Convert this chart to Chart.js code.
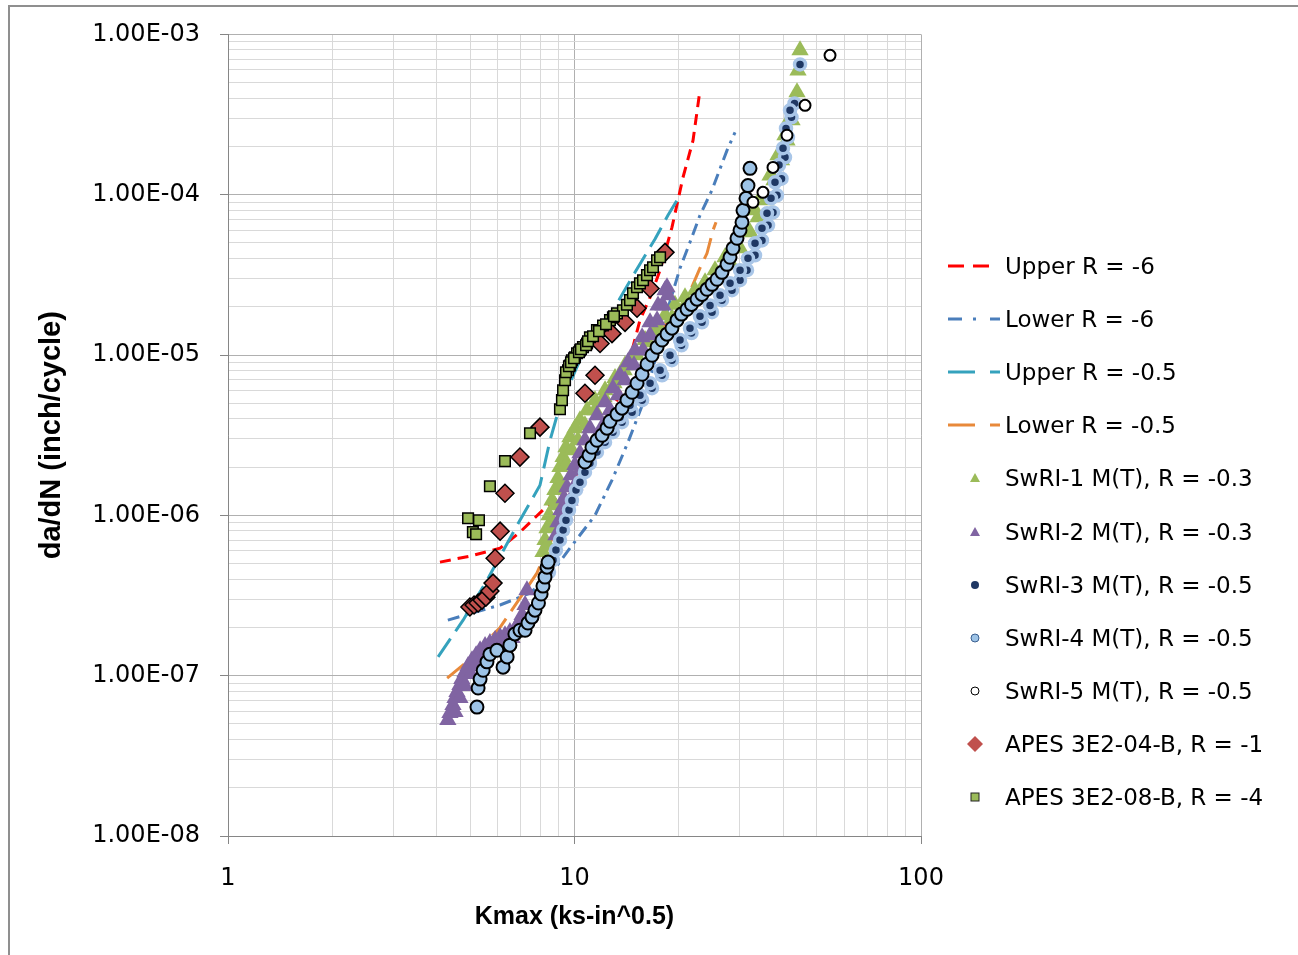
<!DOCTYPE html>
<html>
<head>
<meta charset="utf-8">
<script src="https://cdn.jsdelivr.net/npm/chart.js@4.4.1/dist/chart.umd.min.js"></script>
<style>
  body { margin: 0; background: #fff; }
  #wrap { position: relative; width: 1298px; height: 955px; overflow: hidden; }
  #frame { position: absolute; left: 8px; top: 5px; width: 1400px; height: 1100px;
           border-left: 2px solid #8f8f8f; border-top: 2px solid #8f8f8f; }
  #chart { position: absolute; left: 0; top: 0; }
  #legend { position: absolute; left: 0; top: 0; font-family: "DejaVu Sans"; font-size: 23px; color: #000; }
  .item { position: absolute; left: 946px; height: 30px; display: flex; align-items: center; white-space: nowrap; }
  .item svg { width: 56px; height: 30px; margin-right: 3px; flex: none; }
</style>
</head>
<body>
<div id="wrap">
  <div id="frame"></div>
  <canvas id="chart" width="1298" height="955"></canvas>
  <div id="legend"></div>
</div>
<script>
// axis ticks
const xDecades = [1, 10, 100];
const xTickLabels = ['1', '10', '100'];
const yDecades = [1e-8, 1e-7, 1e-6, 1e-5, 1e-4, 1e-3];
const yTickLabels = ['1.00E-08', '1.00E-07', '1.00E-06', '1.00E-05', '1.00E-04', '1.00E-03'];

const seriesNames = [
  'Upper R = -6', 'Lower R = -6', 'Upper R = -0.5', 'Lower R = -0.5',
  'SwRI-1 M(T), R = -0.3', 'SwRI-2 M(T), R = -0.3', 'SwRI-3 M(T), R = -0.5',
  'SwRI-4 M(T), R = -0.5', 'SwRI-5 M(T), R = -0.5',
  'APES 3E2-04-B, R = -1', 'APES 3E2-08-B, R = -4'
];

// bounding curves, Kmax vs da/dN
const upperR6K = [4.09, 4.99, 6.10, 6.96, 8.67, 9.90, 11.85, 13.53, 14.66, 15.45, 16.52, 17.66, 19.11, 20.56, 21.98, 23.02];
const upperR6Rate = [5.11e-7, 5.57e-7, 6.24e-7, 7.86e-7, 1.24e-6, 1.66e-6, 2.94e-6, 5.78e-6, 1.07e-5, 1.65e-5, 2.29e-5, 3.38e-5, 6.26e-5, 1.28e-4, 2.18e-4, 4.48e-4];

const lowerR6K = [4.31, 6.10, 7.44, 8.50, 9.70, 11.46, 12.83, 14.27, 15.77, 17.08, 18.61, 20.16, 21.54, 23.02, 24.94, 27.55, 29.06];
const lowerR6Rate = [2.22e-7, 2.76e-7, 3.27e-7, 4.24e-7, 6.24e-7, 1.00e-6, 1.66e-6, 2.86e-6, 5.01e-6, 9.28e-6, 1.96e-5, 3.48e-5, 5.05e-5, 7.44e-5, 1.07e-4, 1.89e-4, 2.45e-4];

const upperR05K = [4.04, 4.77, 5.59, 6.96, 7.95, 8.50, 9.08, 10.37, 12.66, 14.95, 17.08, 18.61, 20.16];
const upperR05Rate = [1.31e-7, 2.22e-7, 3.94e-7, 9.33e-7, 1.54e-6, 2.94e-6, 4.86e-6, 9.28e-6, 1.77e-5, 3.28e-5, 5.3e-5, 7.44e-5, 9.91e-5];

const lowerR05K = [4.29, 4.89, 6.10, 7.79, 9.08, 11.85, 15.45, 18.25, 21.12, 23.02, 24.12, 25.10, 25.61];
const lowerR05Rate = [9.66e-8, 1.22e-7, 2.0e-7, 4.36e-7, 9.33e-7, 2.94e-6, 8.04e-6, 1.53e-5, 2.26e-5, 3.48e-5, 4.31e-5, 6.00e-5, 6.73e-5];

// test data
const swri1K = [8.11, 8.22, 8.33, 8.44, 8.61, 8.78, 8.96, 9.08, 9.27, 9.45, 9.70, 10.03, 10.37, 10.87, 11.46, 12.25, 13.09, 13.99, 14.95, 15.98, 17.08, 18.25, 19.50, 20.84, 22.27, 23.81, 25.44, 27.19, 29.06, 31.05, 33.19, 34.76, 36.67, 38.66, 40.50, 41.88, 43.87, 44.16, 44.76,
  8.33, 8.55, 8.78, 9.08, 9.45, 9.83, 10.23, 10.72, 11.46, 12.17, 13.00, 13.90, 15.05, 16.30, 17.66, 19.11, 20.70, 22.42, 24.28, 26.30, 28.11, 30.04, 32.10, 33.85, 35.70, 37.65, 39.58, 41.04, 42.44];
const swri1Rate = [5.9e-7, 7.01e-7, 8.3e-7, 1.0e-6, 1.24e-6, 1.44e-6, 1.71e-6, 2.0e-6, 2.31e-6, 2.66e-6, 3.07e-6, 3.5e-6, 3.92e-6, 4.53e-6, 5.23e-6, 6.03e-6, 7.2e-6, 8.65e-6, 1.04e-5, 1.24e-5, 1.47e-5, 1.77e-5, 2.06e-5, 2.29e-5, 2.54e-5, 2.84e-5, 3.38e-5, 4.07e-5, 4.98e-5, 6.2e-5, 7.99e-5, 9.91e-5, 1.32e-4, 1.76e-4, 2.35e-4, 3.0e-4, 4.35e-4, 5.96e-4, 7.95e-4,
  6.52e-7, 8.69e-7, 1.158e-6, 1.54e-6, 2.06e-6, 2.55e-6, 2.94e-6, 3.65e-6, 4.53e-6, 5.46e-6, 6.67e-6, 8.04e-6, 9.97e-6, 1.20e-5, 1.43e-5, 1.70e-5, 1.99e-5, 2.26e-5, 2.61e-5, 3.10e-5, 3.79e-5, 4.63e-5, 5.83e-5, 7.23e-5, 9.23e-5, 1.23e-4, 1.64e-4, 2.18e-4, 2.91e-4];

const swri2K = [4.31, 4.37, 4.46, 4.52, 4.58, 4.67, 4.73, 4.83, 4.93, 5.06, 5.20, 5.34, 5.52, 5.70, 5.90, 6.10, 6.30, 6.51, 6.73, 6.87, 7.06, 7.20, 7.29, 8.84, 8.96, 9.14, 9.33, 9.51, 9.77, 10.03, 10.37, 10.72, 11.08, 11.61, 12.25, 12.91, 13.53, 14.27, 14.95, 15.67, 16.52, 17.42, 18.25, 18.49,
  4.52, 4.67, 4.83, 5.03, 5.23, 5.48, 5.78, 6.18, 6.60,
  9.08, 9.39, 9.70, 10.03, 10.37, 10.94, 11.46, 12.09, 12.66, 13.36, 13.99, 14.85, 15.77, 16.52, 17.31, 18.01, 18.61];
const swri2Rate = [5.29e-8, 5.85e-8, 6.56e-8, 7.25e-8, 7.90e-8, 8.74e-8, 9.52e-8, 1.05e-7, 1.15e-7, 1.25e-7, 1.34e-7, 1.44e-7, 1.53e-7, 1.60e-7, 1.67e-7, 1.74e-7, 1.79e-7, 1.87e-7, 1.95e-7, 2.10e-7, 2.39e-7, 2.76e-7, 3.41e-7, 7.52e-7, 9.07e-7, 1.08e-6, 1.28e-6, 1.50e-6, 1.78e-6, 2.06e-6, 2.44e-6, 2.94e-6, 3.50e-6, 4.21e-6, 5.08e-6, 6.21e-6, 7.48e-6, 9.02e-6, 1.07e-5, 1.29e-5, 1.60e-5, 2.04e-5, 2.54e-5, 2.65e-5,
  5.93e-8, 7.25e-8, 8.61e-8, 1.023e-7, 1.18e-7, 1.34e-7, 1.485e-7, 1.60e-7, 1.715e-7,
  8.09e-7, 1.0e-6, 1.24e-6, 1.54e-6, 1.91e-6, 2.37e-6, 2.94e-6, 3.65e-6, 4.53e-6, 5.62e-6, 6.96e-6, 8.64e-6, 1.07e-5, 1.33e-5, 1.65e-5, 2.04e-5, 2.36e-5];

const swri3K = [8.44, 8.67, 8.84, 9.08, 9.27, 9.45, 9.64, 9.83, 10.10, 10.37, 10.72, 11.08, 11.61, 12.25, 12.91, 13.71, 14.66, 15.67, 16.74, 17.89, 19.11, 20.36, 21.76, 23.33, 24.94, 26.64, 28.48, 30.04, 31.47, 33.19, 34.76, 36.19, 37.40, 38.41, 39.58, 40.50, 41.31, 42.30, 43.15, 44.76,
  11.46, 12.09, 12.74, 13.53, 14.46, 15.45, 16.52, 17.66, 18.86, 20.16, 21.54, 23.02, 24.61, 26.30, 28.11, 30.04, 31.67, 33.19, 34.76, 35.94, 36.91, 37.90, 38.92, 39.97, 40.77, 41.88];
const swri3Rate = [4.43e-7, 5.26e-7, 6.07e-7, 7.01e-7, 8.09e-7, 9.33e-7, 1.08e-6, 1.24e-6, 1.44e-6, 1.61e-6, 1.86e-6, 2.11e-6, 2.48e-6, 2.86e-6, 3.30e-6, 3.81e-6, 4.40e-6, 5.23e-6, 6.21e-6, 7.48e-6, 9.28e-6, 1.15e-5, 1.37e-5, 1.60e-5, 1.85e-5, 2.20e-5, 2.54e-5, 2.93e-5, 3.38e-5, 4.19e-5, 5.19e-5, 6.44e-5, 7.76e-5, 9.91e-5, 1.26e-4, 1.71e-4, 2.28e-4, 3.04e-4, 3.71e-4, 6.50e-4,
  2.74e-6, 3.07e-6, 3.55e-6, 4.09e-6, 4.86e-6, 5.62e-6, 6.67e-6, 8.04e-6, 9.97e-6, 1.24e-5, 1.47e-5, 1.745e-5, 2.04e-5, 2.36e-5, 2.80e-5, 3.38e-5, 4.01e-5, 4.98e-5, 6.17e-5, 7.66e-5, 9.50e-5, 1.195e-4, 1.53e-4, 1.95e-4, 2.59e-4, 3.36e-4];

const swri4K = [5.23, 5.27, 5.34, 5.45, 5.59, 5.70, 5.97, 6.22, 6.39, 6.51, 6.73, 6.96, 7.20, 7.34, 7.54, 7.69, 7.87, 8.01, 8.11, 8.22, 8.33, 8.39, 10.72, 11.01, 11.23, 11.61, 12.01, 12.41, 12.66, 13.26, 13.71, 14.17, 14.66, 15.15, 15.67, 16.19, 16.74, 17.31, 17.89, 18.49, 19.11, 19.76, 20.36, 21.12, 21.76, 22.57, 23.33, 24.12, 24.94, 25.78, 26.64, 27.55, 28.11, 28.67, 29.44, 30.04, 30.44, 30.64, 31.26, 31.67, 32.10];
const swri4Rate = [6.37e-8, 8.37e-8, 9.52e-8, 1.08e-7, 1.22e-7, 1.36e-7, 1.44e-7, 1.13e-7, 1.31e-7, 1.55e-7, 1.82e-7, 1.92e-7, 1.92e-7, 2.13e-7, 2.32e-7, 2.56e-7, 2.84e-7, 3.23e-7, 3.62e-7, 4.12e-7, 4.75e-7, 5.11e-7, 2.15e-6, 2.37e-6, 2.66e-6, 2.94e-6, 3.16e-6, 3.50e-6, 3.86e-6, 4.27e-6, 4.66e-6, 5.23e-6, 5.86e-6, 6.67e-6, 7.59e-6, 8.77e-6, 9.97e-6, 1.12e-5, 1.24e-5, 1.35e-5, 1.47e-5, 1.65e-5, 1.80e-5, 1.93e-5, 2.07e-5, 2.23e-5, 2.39e-5, 2.57e-5, 2.76e-5, 2.97e-5, 3.28e-5, 3.68e-5, 4.07e-5, 4.63e-5, 5.35e-5, 6.00e-5, 6.73e-5, 7.99e-5, 9.50e-5, 1.14e-4, 1.46e-4];

const swri5K = [32.74, 34.99, 37.40, 41.04, 46.27, 54.63];
const swri5Rate = [8.97e-5, 1.035e-4, 1.48e-4, 2.35e-4, 3.61e-4, 7.40e-4];

const apes04K = [4.99, 5.13, 5.27, 5.41, 5.55, 5.70, 5.82, 5.90, 6.10, 6.30, 6.96, 7.95, 10.72, 11.46, 11.85, 12.83, 13.99, 15.15, 16.52, 18.25];
const apes04Rate = [2.68e-7, 2.76e-7, 2.84e-7, 2.96e-7, 3.09e-7, 3.37e-7, 3.78e-7, 5.4e-7, 7.97e-7, 1.375e-6, 2.31e-6, 3.55e-6, 5.78e-6, 7.48e-6, 1.18e-5, 1.36e-5, 1.60e-5, 1.96e-5, 2.6e-5, 4.37e-5];

const apes08K = [4.93, 5.30, 5.09, 5.20, 5.70, 6.30, 7.44, 9.08, 9.20, 9.27, 9.39, 9.58, 9.70, 9.83, 10.03, 10.17, 10.37, 10.58, 10.87, 11.08, 11.61, 12.09, 12.66, 12.91, 13.26, 13.80, 14.17, 14.46, 14.75, 15.15, 15.45, 15.77, 16.19, 16.52, 16.85, 17.31, 17.66,
  9.45, 9.64, 9.77, 9.97, 10.30, 10.44, 10.80, 10.94, 11.31, 11.77, 12.33, 13.00];
const apes08Rate = [9.6e-7, 9.33e-7, 7.86e-7, 7.63e-7, 1.52e-6, 2.18e-6, 3.25e-6, 4.59e-6, 5.23e-6, 6.03e-6, 6.96e-6, 8.04e-6, 8.6e-6, 9.28e-6, 9.69e-6, 1.026e-5, 1.07e-5, 1.12e-5, 1.18e-5, 1.29e-5, 1.43e-5, 1.53e-5, 1.65e-5, 1.72e-5, 1.82e-5, 1.90e-5, 2.06e-5, 2.20e-5, 2.43e-5, 2.65e-5, 2.80e-5, 2.93e-5, 3.15e-5, 3.38e-5, 3.53e-5, 3.90e-5, 4.07e-5,
  7.81e-6, 8.51e-6, 9.02e-6, 9.55e-6, 1.04e-5, 1.087e-5, 1.15e-5, 1.22e-5, 1.31e-5, 1.41e-5, 1.556e-5, 1.745e-5];

const pts = (xs, ys) => xs.map((x, i) => ({ x: x, y: ys[i] }));

function curve(label, xs, ys, color, dash) {
  return { label, data: pts(xs, ys), showLine: true, borderColor: color, borderWidth: 3,
           borderDash: dash, pointRadius: 0, fill: false, tension: 0 };
}
function marks(label, xs, ys, style, radius, fillColor, edgeColor, edgeWidth) {
  return { label, data: pts(xs, ys), showLine: false, pointStyle: style, pointRadius: radius,
           pointBackgroundColor: fillColor, pointBorderColor: edgeColor, pointBorderWidth: edgeWidth };
}

const datasets = [
  curve(seriesNames[0], upperR6K, upperR6Rate, '#ff0000', [11, 7]),
  curve(seriesNames[1], lowerR6K, lowerR6Rate, '#4a7ebb', [12, 6, 3, 6]),
  curve(seriesNames[2], upperR05K, upperR05Rate, '#35a2bd', [22, 9]),
  curve(seriesNames[3], lowerR05K, lowerR05Rate, '#e8893a', [22, 9]),
  marks(seriesNames[4], swri1K, swri1Rate, 'triangle', 10, '#9bbb59', '#9bbb59', 0),
  marks(seriesNames[5], swri2K, swri2Rate, 'triangle', 10, '#8064a2', '#8064a2', 0),
  marks(seriesNames[6], swri3K, swri3Rate, 'circle', 5.5, '#1f3864', '#a9c6e8', 3.5),
  marks(seriesNames[7], swri4K, swri4Rate, 'circle', 6.5, '#9dc3e6', '#000000', 2),
  marks(seriesNames[8], swri5K, swri5Rate, 'circle', 5.5, '#ffffff', '#000000', 2),
  marks(seriesNames[9], apes04K, apes04Rate, 'rectRot', 9, '#c0504d', '#000000', 1.5),
  marks(seriesNames[10], apes08K, apes08Rate, 'rect', 7.5, '#9bbb59', '#000000', 1.5)
];
// later series sit on top of earlier ones
datasets.forEach((d, i) => { d.order = datasets.length - i; });

const isDecade = v => Math.abs(Math.log10(v) - Math.round(Math.log10(v))) < 1e-9;

function logTicks(decades) {
  const out = [];
  for (let i = 0; i < decades.length; i++) {
    out.push({ value: decades[i], major: true });
    if (i < decades.length - 1) {
      for (let m = 2; m <= 9; m++) out.push({ value: m * decades[i], major: false });
    }
  }
  return out;
}

function labelFor(decades, labels) {
  return v => {
    if (!isDecade(v)) return '';
    const idx = decades.findIndex(d => Math.abs(Math.log10(d) - Math.log10(v)) < 1e-6);
    return idx >= 0 ? labels[idx] : '';
  };
}

const gridStyle = {
  color: c => (c.tick && c.tick.major ? '#b0b0b0' : '#d9d9d9'),
  tickColor: c => (c.tick && c.tick.major ? '#868686' : 'rgba(0,0,0,0)'),
  tickLength: 8,
  lineWidth: 1
};
const tickFont = { family: 'DejaVu Sans', size: 24 };

new Chart(document.getElementById('chart'), {
  type: 'scatter',
  data: { datasets },
  options: {
    responsive: false,
    animation: false,
    layout: { padding: { top: 34, right: 377, bottom: 0, left: 0 } },
    plugins: { legend: { display: false }, tooltip: { enabled: false } },
    scales: {
      x: {
        type: 'logarithmic', min: 1, max: 100,
        afterBuildTicks: s => { s.ticks = logTicks(xDecades); },
        afterFit: s => { s.height = 119; },
        grid: gridStyle,
        border: { color: '#868686', width: 1 },
        ticks: { autoSkip: false, maxRotation: 0, padding: 20, color: '#000', font: tickFont,
                 callback: labelFor(xDecades, xTickLabels) },
        title: { display: true, text: 'Kmax (ks-in^0.5)', color: '#000',
                 font: { family: 'Liberation Sans', size: 25, weight: 'bold' },
                 padding: { top: 0, bottom: 23 } }
      },
      y: {
        type: 'logarithmic', min: 1e-8, max: 1e-3,
        afterBuildTicks: s => { s.ticks = logTicks(yDecades); },
        afterFit: s => { s.width = 228; },
        grid: gridStyle,
        border: { color: '#868686', width: 1 },
        ticks: { autoSkip: false, padding: 20, color: '#000', font: tickFont,
                 callback: labelFor(yDecades, yTickLabels) },
        title: { display: true, text: 'da/dN (inch/cycle)', color: '#000',
                 font: { family: 'Liberation Sans', size: 29, weight: 'bold' },
                 padding: { top: 35, bottom: 0 } }
      }
    }
  }
});

// legend drawn as html next to the plot
const legendIcons = [
  '<line x1="2" y1="15" x2="43" y2="15" stroke="#ff0000" stroke-width="3" stroke-dasharray="16 9"/>',
  '<line x1="2" y1="15" x2="54" y2="15" stroke="#4a7ebb" stroke-width="3" stroke-dasharray="14 11 3 14 10"/>',
  '<line x1="2" y1="15" x2="54" y2="15" stroke="#35a2bd" stroke-width="3" stroke-dasharray="27 15 10"/>',
  '<line x1="2" y1="15" x2="54" y2="15" stroke="#e8893a" stroke-width="3" stroke-dasharray="27 15 10"/>',
  '<polygon points="29,10 34,19 24,19" fill="#9bbb59"/>',
  '<polygon points="29,10 34,19 24,19" fill="#8064a2"/>',
  '<circle cx="29" cy="15" r="4" fill="#1f3864"/>',
  '<circle cx="29" cy="15" r="4" fill="#9dc3e6" stroke="#3a5f8f" stroke-width="1"/>',
  '<circle cx="29" cy="15" r="4" fill="#fff" stroke="#000" stroke-width="1"/>',
  '<polygon points="29,7 37,15 29,23 21,15" fill="#c0504d"/>',
  '<rect x="25" y="11" width="8" height="8" fill="#9bbb59" stroke="#222" stroke-width="1"/>'
];
const legend = document.getElementById('legend');
seriesNames.forEach((name, i) => {
  const row = document.createElement('div');
  row.className = 'item';
  row.style.top = (266 + i * 53.1 - 15) + 'px';
  row.innerHTML = '<svg viewBox="0 0 56 30">' + legendIcons[i] + '</svg><span>' + name + '</span>';
  legend.appendChild(row);
});
</script>
</body>
</html>
